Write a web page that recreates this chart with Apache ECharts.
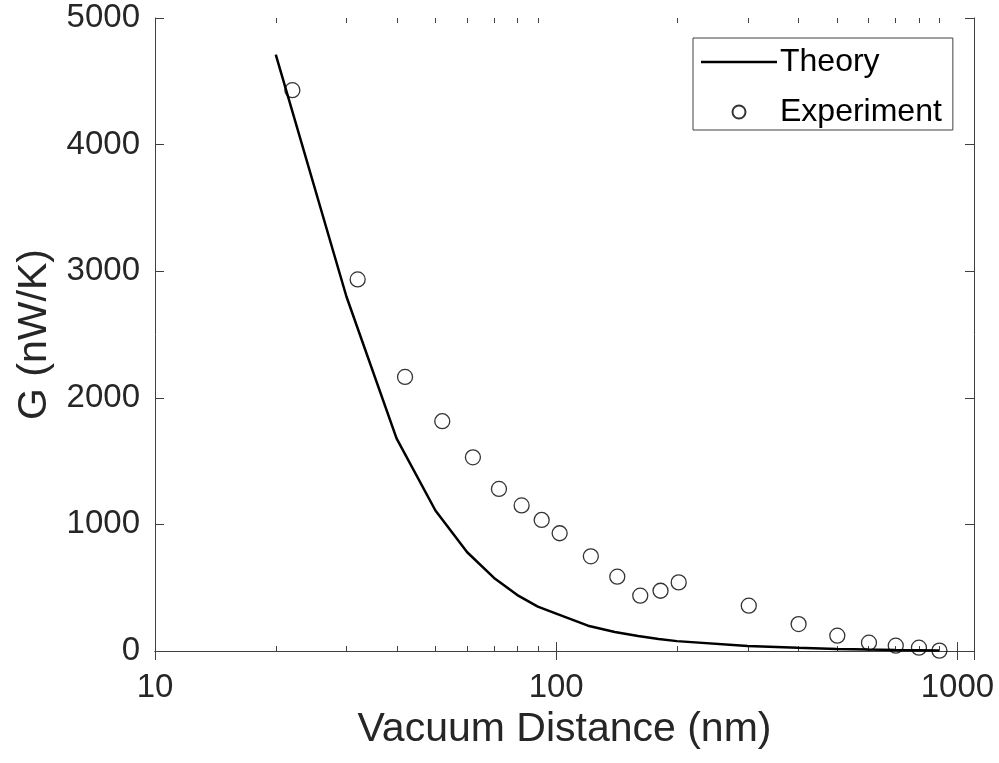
<!DOCTYPE html>
<html>
<head>
<meta charset="utf-8">
<script src="https://cdn.jsdelivr.net/npm/echarts@6/dist/echarts.min.js"></script>
<style>
  html, body { margin: 0; padding: 0; background: #fff; }
  #chart { width: 999px; height: 763px; }
</style>
</head>
<body>
<div id="chart"></div>
<script>
// theory curve (nm, nW/K)
const theoryX = [20, 30, 40, 50, 60, 70, 80, 90, 100, 120, 140, 160, 180, 200, 300, 400, 500, 600, 700, 800, 900];
const theoryY = [4710, 2800, 1680, 1110, 780, 577, 442, 350, 295, 200, 150, 118, 95, 78, 40, 25, 16, 11, 8, 6, 4];
// measured points
const expX = [22, 32, 42, 52, 62, 72, 82, 92, 102, 122, 142, 162, 182, 202, 302, 402, 502, 602, 702, 802, 902];
const expY = [4430, 2935, 2165, 1815, 1530, 1280, 1150, 1035, 930, 748, 587, 437, 476, 542, 358, 213, 121, 66, 42, 26, 3];
// axis ticks
const xTickLabels = [10, 100, 1000];
const xMinorTicks = [20, 30, 40, 50, 60, 70, 80, 90, 200, 300, 400, 500, 600, 700, 800, 900];

const FONT = "'Liberation Sans', Arial, sans-serif";
const TXT = '#262626';
const BOX = '#404040';
const GRID = { left: 155, top: 18, right: 25, bottom: 112 };

const chart = echarts.init(document.getElementById('chart'));

const pairs = (xs, ys) => xs.map((x, i) => [x, ys[i]]);

const xBase = {
  type: 'log',
  logBase: 10,
  min: 10,
  max: 1100,
  splitLine: { show: false },
  axisLine: { show: true, lineStyle: { color: BOX, width: 1 } },
  axisTick: { show: true, inside: true, length: 9, lineStyle: { color: BOX } },
};

const yBase = {
  type: 'value',
  min: 0,
  max: 5000,
  interval: 1000,
  splitLine: { show: false },
  axisLine: { show: true, lineStyle: { color: BOX, width: 1 } },
  axisTick: { show: true, inside: true, length: 9, lineStyle: { color: BOX } },
};

const option = {
  animation: false,
  backgroundColor: '#fff',
  grid: GRID,
  legend: {
    data: [
      { name: 'Theory', icon: 'path://M0,0H76V2.5H0Z' },
      { name: 'Experiment' },
    ],
    orient: 'vertical',
    left: 693,
    top: 38,
    padding: [6, 11, 0, 8],
    itemGap: 14,
    itemWidth: 76,
    itemHeight: 13,
    symbolKeepAspect: true,
    selectedMode: false,
    borderColor: BOX,
    borderWidth: 1,
    backgroundColor: '#fff',
    textStyle: { fontFamily: FONT, fontSize: 32, color: '#000', lineHeight: 36, padding: [0, 0, 0, -2] },
  },
  xAxis: [
    Object.assign({}, xBase, {
      position: 'bottom',
      name: 'Vacuum Distance (nm)',
      nameLocation: 'middle',
      nameGap: 55,
      nameTextStyle: { fontFamily: FONT, fontSize: 41, color: TXT },
      axisLabel: {
        fontFamily: FONT, fontSize: 33, color: TXT, margin: 20,
        formatter: v => (xTickLabels.indexOf(Math.round(v)) >= 0 ? String(Math.round(v)) : ''),
      },
    }),
    Object.assign({}, xBase, {
      position: 'top',
      axisLabel: { show: false },
    }),
  ],
  yAxis: [
    Object.assign({}, yBase, {
      position: 'left',
      name: 'G (nW/K)',
      nameLocation: 'middle',
      nameGap: 100,
      nameTextStyle: { fontFamily: FONT, fontSize: 41, color: TXT },
      axisLabel: { fontFamily: FONT, fontSize: 33, color: TXT, margin: 15, formatter: v => String(v) },
    }),
    Object.assign({}, yBase, {
      position: 'right',
      axisLabel: { show: false },
    }),
  ],
  series: [
    {
      name: 'Theory',
      type: 'line',
      data: pairs(theoryX, theoryY),
      symbol: 'none',
      smooth: false,
      color: '#000',
      lineStyle: { color: '#000', width: 2.5 },
      z: 2,
    },
    {
      name: 'Experiment',
      type: 'scatter',
      data: pairs(expX, expY),
      symbol: 'circle',
      symbolSize: 15,
      itemStyle: { color: 'rgba(0,0,0,0)', borderColor: '#000', borderWidth: 1.3 },
      z: 3,
    },
  ],
};

chart.setOption(option);

// MATLAB-style minor ticks on the log axis (bottom and top)
const yBottom = 763 - GRID.bottom;
const yTop = GRID.top;
const minorLines = [];
xMinorTicks.forEach(v => {
  const px = Math.round(chart.convertToPixel({ xAxisIndex: 0 }, v)) + 0.5;
  minorLines.push({ type: 'line', shape: { x1: px, y1: yBottom, x2: px, y2: yBottom - 5 }, style: { stroke: BOX, lineWidth: 1 }, silent: true });
  minorLines.push({ type: 'line', shape: { x1: px, y1: yTop, x2: px, y2: yTop + 5 }, style: { stroke: BOX, lineWidth: 1 }, silent: true });
});
chart.setOption({ graphic: minorLines });
</script>
</body>
</html>
